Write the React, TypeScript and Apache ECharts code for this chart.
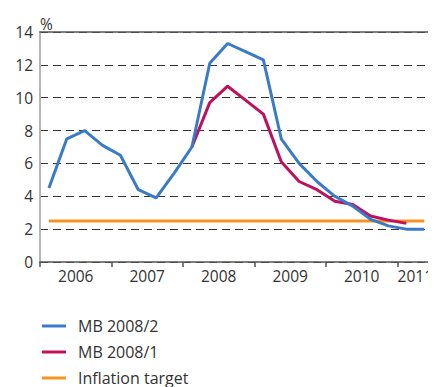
import React, { useEffect, useRef } from "react";
import * as echarts from "echarts";

const quarters = [
  "2006 Q1", "2006 Q2", "2006 Q3", "2006 Q4",
  "2007 Q1", "2007 Q2", "2007 Q3", "2007 Q4",
  "2008 Q1", "2008 Q2", "2008 Q3", "2008 Q4",
  "2009 Q1", "2009 Q2", "2009 Q3", "2009 Q4",
  "2010 Q1", "2010 Q2", "2010 Q3", "2010 Q4",
  "2011 Q1", "2011 Q2",
];

const mb20082 = [
  4.5, 7.5, 8.0, 7.1, 6.5, 4.4, 3.9, 5.4, 7.0, 12.1, 13.3, 12.8,
  12.3, 7.5, 6.0, 4.9, 4.0, 3.4, 2.6, 2.2, 2.0, 2.0,
];

const mb20081 = [
  null, null, null, null, null, null, null, null, 7.0, 9.7, 10.7, 9.85,
  9.0, 6.1, 4.9, 4.4, 3.7, 3.5, 2.8, 2.55, 2.35, null,
];

const inflationTarget = [
  2.5, 2.5, 2.5, 2.5, 2.5, 2.5, 2.5, 2.5, 2.5, 2.5, 2.5,
  2.5, 2.5, 2.5, 2.5, 2.5, 2.5, 2.5, 2.5, 2.5, 2.5, 2.5,
];

const seriesNames = ["MB 2008/2", "MB 2008/1", "Inflation target"];
const yTicks = [0, 2, 4, 6, 8, 10, 12, 14];

const FONT = "'Open Sans', 'Noto Sans', sans-serif";

export default function App() {
  const ref = useRef<HTMLDivElement>(null);

  useEffect(() => {
    if (!ref.current) return;
    const chart = echarts.init(ref.current, undefined, { renderer: "svg" });

    // year label positions: centre of each year's visible quarters
    const yearMap = new Map<number, string>();
    const years: string[] = [];
    quarters.forEach((q) => {
      const y = q.slice(0, 4);
      if (!years.includes(y)) years.push(y);
    });
    years.forEach((y) => {
      const idx = quarters
        .map((q, i) => (q.startsWith(y) ? i : -1))
        .filter((i) => i >= 0);
      const centre = (idx[0] + idx[idx.length - 1] + 1) / 2;
      yearMap.set(centre, y);
    });

    const toPts = (arr: (number | null)[]) =>
      arr.map((v, i) => [i + 0.5, v]);

    const xMax = 21.83;

    chart.setOption({
      animation: false,
      textStyle: { fontFamily: FONT },
      grid: { left: 40, right: 3, top: 32, bottom: 125, show: false },
      legend: {
        orient: "vertical",
        left: 37,
        top: 313,
        height: 80,
        itemWidth: 24,
        itemHeight: 3,
        itemGap: 10,
        icon: "rect",
        data: seriesNames,
        textStyle: {
          fontFamily: FONT,
          fontSize: 16,
          lineHeight: 16,
          color: "#333",
          padding: [0, 0, 0, 7],
        },
      },
      xAxis: [
        {
          type: "value",
          min: 0,
          max: xMax,
          interval: 4,
          position: "bottom",
          axisLine: { show: true, onZero: false, lineStyle: { color: "#555", width: 1.5 } },
          axisTick: { show: true, length: 5, lineStyle: { color: "#555", width: 1.5 } },
          axisLabel: { show: false },
          splitLine: { show: false },
        },
        {
          type: "value",
          min: 0,
          max: xMax,
          interval: 1,
          position: "bottom",
          axisLine: { show: false },
          axisTick: { show: false },
          splitLine: { show: false },
          axisLabel: {
            show: true,
            margin: 6,
            fontFamily: FONT,
            fontSize: 15.5,
            color: "#333",
            formatter: (v: number) => yearMap.get(Math.round(v * 100) / 100) ?? "",
          },
        },
        {
          type: "value",
          min: 0,
          max: xMax,
          position: "top",
          axisLine: { show: true, onZero: false, lineStyle: { color: "#555", width: 1.5 } },
          axisTick: { show: false },
          axisLabel: { show: false },
          splitLine: { show: false },
        },
      ],
      yAxis: [
        {
          type: "value",
          min: yTicks[0],
          max: yTicks[yTicks.length - 1],
          interval: 2,
          name: "%",
          nameLocation: "end",
          nameGap: 0,
          nameTextStyle: {
            align: "left",
            fontFamily: FONT,
            fontSize: 15.5,
            color: "#333",
          },
          axisLine: { show: true, lineStyle: { color: "#555", width: 1.5 } },
          axisTick: { show: false },
          axisLabel: {
            margin: 7,
            fontFamily: FONT,
            fontSize: 15.5,
            color: "#333",
          },
          splitLine: {
            show: true,
            lineStyle: { color: "#333", type: [8, 5], width: 1.2 },
          },
        },
        {
          type: "value",
          min: yTicks[0],
          max: yTicks[yTicks.length - 1],
          position: "right",
          axisLine: { show: true, lineStyle: { color: "#c8c8c8", width: 1.5 } },
          axisTick: { show: false },
          axisLabel: { show: false },
          splitLine: { show: false },
        },
      ],
      series: [
        {
          name: seriesNames[0],
          type: "line",
          data: toPts(mb20082),
          showSymbol: false,
          symbol: "none",
          z: 5,
          lineStyle: { color: "#3a7bc8", width: 3 },
          itemStyle: { color: "#3a7bc8" },
        },
        {
          name: seriesNames[1],
          type: "line",
          data: toPts(mb20081),
          showSymbol: false,
          symbol: "none",
          z: 4,
          lineStyle: { color: "#c0105c", width: 3 },
          itemStyle: { color: "#c0105c" },
        },
        {
          name: seriesNames[2],
          type: "line",
          data: toPts(inflationTarget),
          showSymbol: false,
          symbol: "none",
          z: 3,
          lineStyle: { color: "#f7921e", width: 3 },
          itemStyle: { color: "#f7921e" },
        },
      ],
    });

    return () => chart.dispose();
  }, []);

  return <div ref={ref} style={{ width: 436, height: 387, marginLeft: -8, marginTop: -8 }} />;
}
